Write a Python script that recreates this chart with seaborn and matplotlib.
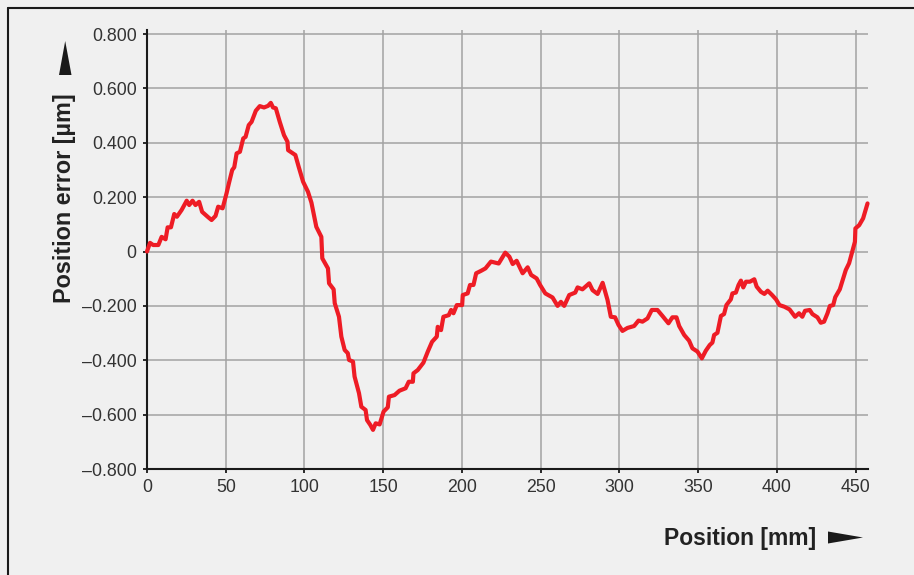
import numpy as np
import pandas as pd
import matplotlib
matplotlib.use("Agg")
import matplotlib.pyplot as plt
import seaborn as sns
from matplotlib.lines import Line2D
from matplotlib.patches import Polygon

# data (position in mm, error in µm)
position = [0, 1.9, 3.9, 7.2, 9.3, 11.8, 13.1, 15.2, 17.3, 19.0, 22.0, 25.2, 26.8, 28.9, 30.8,
            33.1, 35.0, 38.9, 41.0, 43.5, 45.2, 48.0, 50.5, 52.0, 54.1, 55.4, 56.9, 59.0, 61.1,
            62.6, 64.6, 66.4, 69.1, 71.6, 74.3, 76.9, 78.6, 80.0, 81.8, 84.3, 87.0, 89.2, 89.6,
            92.1, 94.2, 96.3, 99.1, 102.2, 104.4, 107.5, 110.7, 111.3, 114.9, 115.6, 118.5,
            119.2, 121.9, 123.4, 125.5, 127.5, 128.3, 130.8, 131.8, 134.6, 136.1, 138.8, 139.7,
            141.8, 143.5, 145.2, 147.7, 150.2, 152.9, 153.6, 157.2, 160.3, 164.2, 166.2, 168.8,
            169.2, 171.9, 175.5, 178.3, 181.0, 184.0, 184.6, 186.7, 188.2, 191.6, 193.1, 194.6,
            196.7, 200.1, 200.5, 203.6, 205.1, 207.3, 209.0, 212.1, 214.9, 218.4, 223.3, 227.5,
            230.1, 232.2, 234.7, 238.5, 241.7, 243.9, 247.4, 249.6, 252.9, 257.5, 260.7, 262.8,
            264.9, 268.1, 271.9, 273.4, 276.5, 280.8, 282.9, 286.1, 289.3, 292.4, 294.5, 297.2,
            299.4, 301.9, 305.1, 309.3, 312.1, 314.6, 317.8, 320.5, 324.1, 327.3, 331.1, 333.6,
            336.2, 337.9, 341.1, 344.2, 346.3, 349.5, 352.3, 354.8, 357.3, 359.0, 360.1, 362.2,
            364.4, 366.4, 367.9, 370.7, 371.7, 373.9, 375.6, 377.1, 378.6, 380.3, 382.8, 385.6,
            387.1, 389.8, 392.0, 394.1, 396.9, 399.4, 401.6, 404.7, 408.0, 411.5, 414.0, 416.1,
            417.8, 420.8, 422.5, 425.7, 427.8, 429.9, 432.1, 433.6, 435.7, 437.0, 439.9, 442.0,
            443.7, 445.8, 447.5, 449.5, 449.8, 452.2, 454.7, 457.5]
error = [0.000, 0.032, 0.024, 0.024, 0.054, 0.045, 0.089, 0.089, 0.138, 0.128, 0.153, 0.187,
         0.171, 0.187, 0.171, 0.183, 0.146, 0.126, 0.116, 0.131, 0.165, 0.159, 0.214, 0.251,
         0.300, 0.310, 0.361, 0.367, 0.416, 0.422, 0.465, 0.477, 0.518, 0.535, 0.530, 0.536,
         0.547, 0.530, 0.527, 0.477, 0.428, 0.404, 0.373, 0.363, 0.355, 0.312, 0.257, 0.220,
         0.180, 0.091, 0.054, -0.025, -0.062, -0.117, -0.139, -0.190, -0.240, -0.313, -0.362,
         -0.374, -0.399, -0.405, -0.460, -0.521, -0.571, -0.583, -0.620, -0.638, -0.656, -0.632,
         -0.636, -0.589, -0.573, -0.534, -0.528, -0.512, -0.503, -0.479, -0.479, -0.448, -0.436,
         -0.409, -0.368, -0.332, -0.313, -0.277, -0.289, -0.240, -0.234, -0.215, -0.227, -0.197,
         -0.197, -0.160, -0.154, -0.123, -0.123, -0.080, -0.071, -0.062, -0.037, -0.044, -0.004,
         -0.019, -0.046, -0.034, -0.080, -0.058, -0.086, -0.099, -0.123, -0.154, -0.169, -0.200,
         -0.185, -0.200, -0.160, -0.151, -0.132, -0.139, -0.117, -0.142, -0.156, -0.115, -0.178,
         -0.240, -0.242, -0.270, -0.292, -0.281, -0.274, -0.254, -0.258, -0.246, -0.215, -0.215,
         -0.237, -0.264, -0.242, -0.242, -0.274, -0.307, -0.328, -0.356, -0.368, -0.393, -0.365,
         -0.344, -0.335, -0.307, -0.299, -0.237, -0.230, -0.197, -0.176, -0.154, -0.151, -0.123,
         -0.107, -0.132, -0.111, -0.111, -0.102, -0.129, -0.148, -0.156, -0.144, -0.160, -0.176,
         -0.197, -0.203, -0.213, -0.240, -0.227, -0.240, -0.218, -0.215, -0.230, -0.242, -0.262,
         -0.258, -0.227, -0.200, -0.197, -0.168, -0.139, -0.099, -0.068, -0.043, -0.007, 0.036,
         0.085, 0.097, 0.122, 0.177]

x_ticks = [0, 50, 100, 150, 200, 250, 300, 350, 400, 450]
x_tick_labels = ["0", "50", "100", "150", "200", "250", "300", "350", "400", "450"]
y_ticks = [-0.8, -0.6, -0.4, -0.2, 0.0, 0.2, 0.4, 0.6, 0.8]
y_tick_labels = ["\u20130.800", "\u20130.600", "\u20130.400", "\u20130.200", "0",
                 "0.200", "0.400", "0.600", "0.800"]

BG = "#f0f0f0"
sns.set_theme(style="white")
plt.rcParams["font.family"] = ["Liberation Sans", "DejaVu Sans"]

W, H = 914, 575
fig = plt.figure(figsize=(W / 100, H / 100), dpi=100, facecolor=BG)
ax = fig.add_axes([147 / W, 1 - 469 / H, (868 - 147) / W, (469 - 30) / H])
ax.set_facecolor(BG)

df = pd.DataFrame({"position": position, "error": error})
sns.lineplot(data=df, x="position", y="error", sort=False, color="#ee1c25",
             linewidth=3.0, ax=ax, clip_on=False, zorder=3)

ax.set_xlim(0, 457.8)
ax.set_ylim(-0.8, 0.815)
ax.set_xticks(x_ticks)
ax.set_xticklabels(x_tick_labels)
ax.set_yticks(y_ticks)
ax.set_yticklabels(y_tick_labels)
ax.set_xlabel("")
ax.set_ylabel("")

ax.grid(True, color="#a3a3a3", linewidth=1.1)
for side in ["top", "right"]:
    ax.spines[side].set_visible(False)
for side in ["left", "bottom"]:
    ax.spines[side].set_color("#1a1a1a")
    ax.spines[side].set_linewidth(1.5)
ax.tick_params(axis="both", direction="out", length=3, width=1.3, color="#1a1a1a",
               labelsize=12.8, labelcolor="#333333", pad=4.5,
               left=True, bottom=True)

# outer frame lines (top and left)
fig.add_artist(Line2D([8 / W, 1], [1 - 8 / H, 1 - 8 / H], color="#1a1a1a", lw=1.5,
                      transform=fig.transFigure))
fig.add_artist(Line2D([8 / W, 8 / W], [0, 1 - 8 / H], color="#1a1a1a", lw=1.5,
                      transform=fig.transFigure))

# axis titles with arrows
fig.text(740 / W, 1 - 538 / H, "Position [mm]", ha="center", va="center",
         fontsize=16.5, fontweight="bold", color="#222222")
fig.text(65 / W, 1 - 198 / H, "Position error [\u00b5m]", ha="center", va="center",
         rotation=90, fontsize=16.8, fontweight="bold", color="#222222")

def px(pts):
    return [(x / W, 1 - y / H) for x, y in pts]

fig.add_artist(Polygon(px([(828, 531.5), (828, 543.5), (863, 537.5)]), closed=True,
                       facecolor="#1a1a1a", edgecolor="none", transform=fig.transFigure))
fig.add_artist(Polygon(px([(59, 75), (71.5, 75), (65.2, 41)]), closed=True,
                       facecolor="#1a1a1a", edgecolor="none", transform=fig.transFigure))

fig.savefig("out.png", dpi=100, facecolor=BG)
